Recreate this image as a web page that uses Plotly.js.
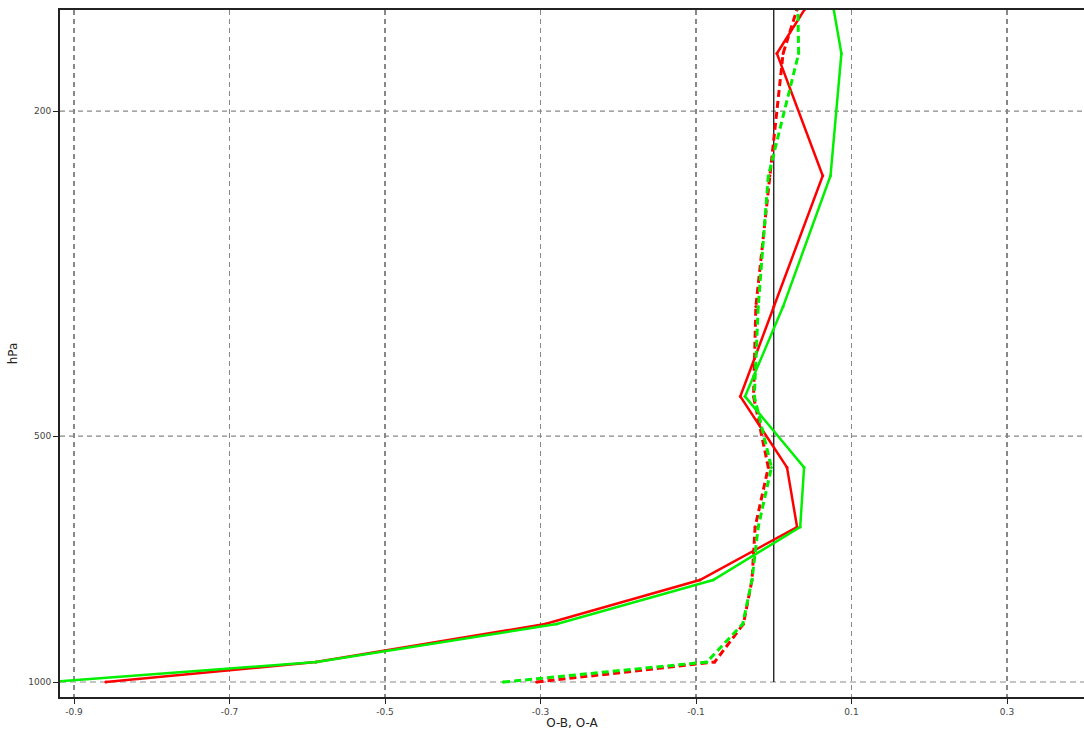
<!DOCTYPE html>
<html>
<head>
<meta charset="utf-8">
<script src="https://cdn.plot.ly/plotly-3.0.1.min.js"></script>
<style>html,body{margin:0;padding:0;background:#fff;}#chart{width:1084px;height:730px;}</style>
</head>
<body>
<div id="chart"></div>
<script>
// Pressure levels (hPa)
const levels = [1000, 945, 849, 750, 646, 546, 447, 347, 240, 170, 150];
// Experiment 1 (red)
const redOB = [-0.859, -0.589, -0.294, -0.095, 0.030, 0.017, -0.043, 0.000, 0.063, 0.004, 0.040];
const redOA = [-0.305, -0.076, -0.039, -0.028, -0.024, -0.007, -0.026, -0.023, -0.005, 0.012, 0.030];
// Experiment 2 (green)
const greenOB = [-0.93, -0.588, -0.279, -0.078, 0.034, 0.039, -0.037, 0.012, 0.073, 0.087, 0.077];
const greenOA = [-0.348, -0.086, -0.040, -0.028, -0.020, -0.003, -0.025, -0.020, -0.007, 0.032, 0.031];

const xTicks = [-0.9, -0.7, -0.5, -0.3, -0.1, 0.1, 0.3];
const yTicks = [200, 500, 1000];

function tr(x, color, dash) {
  return {x: x, y: levels, type: 'scatter', mode: 'lines+markers',
    line: {color: color, width: dash ? 3 : 2.5, dash: dash ? '7px,4px' : 'solid'},
    marker: {color: color, size: 3}, showlegend: false, hoverinfo: 'skip'};
}
const data = [tr(redOB, '#ff0000', false), tr(redOA, '#ff0000', true),
              tr(greenOB, '#00f000', false), tr(greenOA, '#00f000', true)];

const shapes = [
  {type:'line', xref:'paper', yref:'y', x0:0, x1:1, y0:200, y1:200, line:{color:'#888', width:1.2, dash:'5px,4px'}, layer:'below'},
  {type:'line', xref:'paper', yref:'y', x0:0, x1:1, y0:500, y1:500, line:{color:'#888', width:1.2, dash:'5px,4px'}, layer:'below'},
  {type:'line', xref:'paper', yref:'y', x0:0, x1:1, y0:1000, y1:1000, line:{color:'#c4c4c4', width:2, dash:'6px,4px'}, layer:'below'},
  {type:'line', xref:'x', yref:'y', x0:0, x1:0, y0:1000, y1:150, line:{color:'#000', width:1.2}, layer:'below'}
];

const layout = {
  width: 1084, height: 730,
  margin: {l: 60, r: 0, t: 10, b: 33},
  paper_bgcolor: '#fff', plot_bgcolor: '#fff',
  font: {family: 'DejaVu Sans', color: '#222', size: 9},
  xaxis: {range: [-0.918, 0.399], tickvals: xTicks, ticktext: xTicks.map(String),
    showgrid: true, gridcolor: '#888', griddash: '5px,4px', gridwidth: 1.2,
    zeroline: false, showline: true, linecolor: '#222', linewidth: 2, mirror: true,
    ticks: 'outside', ticklen: 5, tickcolor: '#222', tickfont: {size: 9, color: '#444'},
    title: {text: 'O-B, O-A', font: {size: 12}, standoff: 4}},
  yaxis: {type: 'log', range: [Math.log10(1043), Math.log10(150.4)],
    tickvals: yTicks, ticktext: yTicks.map(String), showgrid: false,
    zeroline: false, showline: true, linecolor: '#222', linewidth: 2, mirror: true,
    ticks: 'outside', ticklen: 5, tickcolor: '#222', tickfont: {size: 9, color: '#444'},
    title: {text: 'hPa', font: {size: 12}, standoff: 8}},
  shapes: shapes
};
Plotly.newPlot('chart', data, layout, {displayModeBar: false, staticPlot: true});
</script>
</body>
</html>
